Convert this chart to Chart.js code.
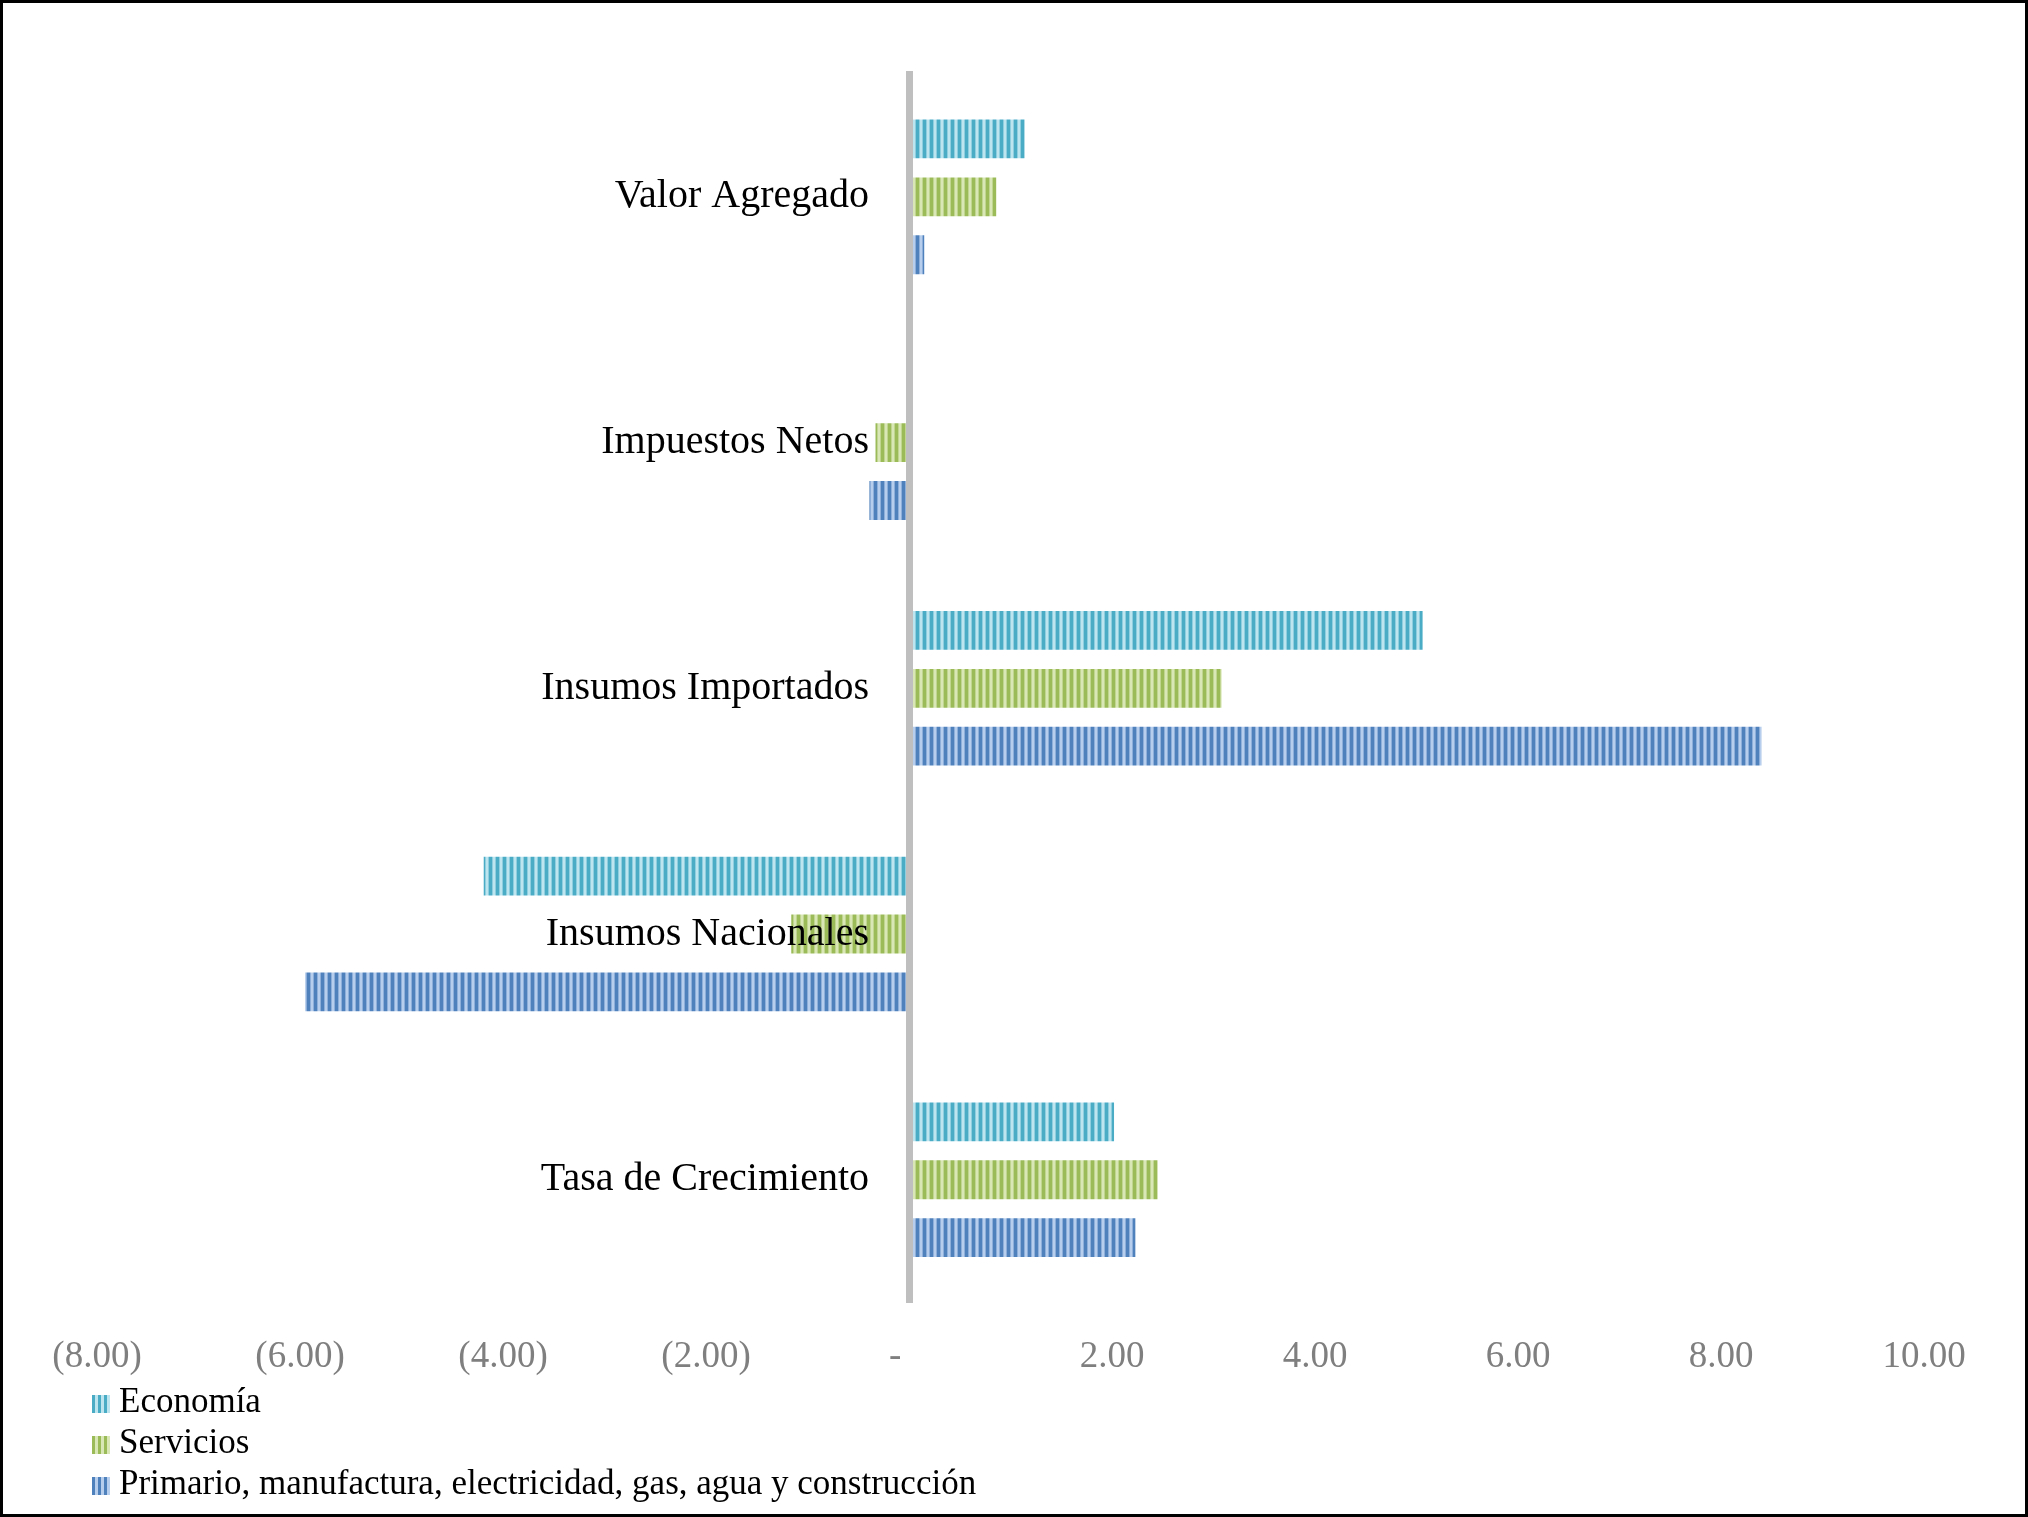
<!DOCTYPE html>
<html>
<head>
<meta charset="utf-8">
<script src="https://cdn.jsdelivr.net/npm/chart.js@4.4.1/dist/chart.umd.min.js"></script>
<style>
  html, body { margin: 0; padding: 0; background: #fff; }
  #wrap { position: relative; width: 2028px; height: 1517px; }
  #frame { position: absolute; left: 0; top: 0; width: 2028px; height: 1517px;
           box-sizing: border-box; border: 3px solid #000; pointer-events: none; }
  #legend { position: absolute; left: 92px; top: 1380px; font-family: "Liberation Serif", serif;
            font-size: 35px; color: #000; }
  .item { height: 41px; line-height: 41px; white-space: nowrap; }
  .box { display: inline-block; width: 18px; height: 18px; margin-right: 9px; vertical-align: -1px; }
</style>
</head>
<body>
<div id="wrap">
  <canvas id="myChart"></canvas>
  <div id="legend"></div>
  <div id="frame"></div>
</div>
<script>
// Data
var categorias = ['Valor Agregado', 'Impuestos Netos', 'Insumos Importados', 'Insumos Nacionales', 'Tasa de Crecimiento'];
var economia = [1.14, 0.00, 5.06, -4.19, 2.02];
var servicios = [0.86, -0.33, 3.08, -1.16, 2.45];
var primario = [0.15, -0.39, 8.40, -5.95, 2.23];
var nombres = ['Economía', 'Servicios', 'Primario, manufactura, electricidad, gas, agua y construcción'];
var ticksX = [-8, -6, -4, -2, 0, 2, 4, 6, 8, 10];

// colores (oscuro, claro)
var colores = [
    ['#4bacc6', '#bde5f0'],
    ['#9bbb59', '#d8e7b5'],
    ['#4f81bd', '#b7cfec']
];

// patron de rayas verticales
function stripes(dark, light){
    var c = document.createElement('canvas');
    c.width = 7;
    c.height = 4;
    var g = c.getContext('2d');
    g.fillStyle = dark;
    g.fillRect(0, 0, 7, 4);
    g.fillStyle = light;
    g.globalAlpha = 0.6;
    g.fillRect(2, 0, 4, 4);
    g.globalAlpha = 1;
    g.fillRect(3, 0, 2, 4);
    return g.createPattern(c, 'repeat');
}

function formatAcc(v){
    if (v === 0) return '-   ';
    if (v < 0) return '(' + Math.abs(v).toFixed(2) + ')';
    return v.toFixed(2);
}

var series = [economia, servicios, primario];
var datasets = [];
for (var i = 0; i < series.length; i++){
    datasets.push({
        label: nombres[i],
        data: series[i],
        backgroundColor: stripes(colores[i][0], colores[i][1]),
        borderWidth: 0,
        categoryPercentage: 0.707,
        barPercentage: 0.67
    });
}

var ctx = document.getElementById('myChart').getContext('2d');
var chart = new Chart(ctx, {
    type: 'bar',
    data: {
        labels: categorias,
        datasets: datasets
    },
    options: {
        indexAxis: 'y',
        responsive: true,
        maintainAspectRatio: false,
        devicePixelRatio: 1,
        animation: false,
        layout: {
            padding: { top: 74, left: 97, right: 104, bottom: 106 }
        },
        plugins: {
            legend: { display: false },
            tooltip: { enabled: false }
        },
        scales: {
            x: {
                min: -8,
                max: 10,
                afterBuildTicks: function(axis){
                    axis.ticks = ticksX.map(function(v){ return { value: v }; });
                },
                grid: { display: false, drawTicks: false },
                border: { display: false },
                ticks: {
                    padding: 32,
                    color: '#7f7f7f',
                    font: { family: 'Liberation Serif', size: 37 },
                    maxRotation: 0,
                    callback: function(v){ return formatAcc(v); }
                }
            },
            y: {
                position: { x: 0 },
                grid: { display: false, drawTicks: false },
                border: { display: true, color: '#bfbfbf', width: 7, z: 1 },
                ticks: {
                    z: 1,
                    color: '#000',
                    font: { family: 'Liberation Serif', size: 40 },
                    // espacio tras la etiqueta para separarla del eje
                    callback: function(v){ return this.getLabelForValue(v) + '\u2003'; }
                }
            }
        }
    }
});

// leyenda
var legend = document.getElementById('legend');
for (var j = 0; j < nombres.length; j++){
    var item = document.createElement('div');
    item.className = 'item';
    var box = document.createElement('span');
    box.className = 'box';
    box.style.background = 'repeating-linear-gradient(90deg,' + colores[j][0] + ' 0px,' + colores[j][0] + ' 3px,' + colores[j][1] + ' 3px,' + colores[j][1] + ' 6px)';
    item.appendChild(box);
    item.appendChild(document.createTextNode(chart.data.datasets[j].label));
    legend.appendChild(item);
}
</script>
</body>
</html>
